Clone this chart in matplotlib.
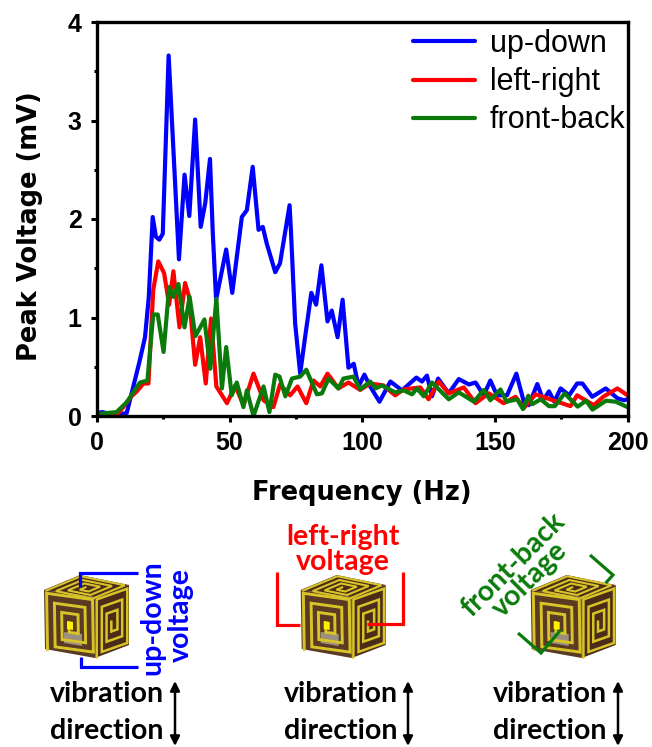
import matplotlib
matplotlib.use('Agg')
import matplotlib.pyplot as plt
from matplotlib.patches import Polygon
from matplotlib.ticker import MultipleLocator
import numpy as np

blue_x = [0, 2, 5, 9, 11.2, 13.7, 16, 18.1, 19.5, 21, 22.2, 23.5, 24.8, 27, 29, 30.9, 33, 34.8, 37, 39.1,
          40.8, 42.6, 43.6, 44.9, 48.7, 51, 54.6, 56.5, 58.7, 60.9, 62.5, 64, 67.2, 69, 72.6, 73.1, 74.7,
          76.6, 78.5, 80.8, 82.6, 84.6, 86.9, 88.5, 90.7, 92.6, 94.8, 96.8, 98.6, 100.8, 103, 106.5, 110.6,
          115, 120.4, 122.5, 124.4, 126.3, 128.6, 132.6, 136.4, 140.2, 142.7, 145.8, 148.3, 150.8, 154.6,
          158.1, 160.9, 162.8, 166, 168.2, 170.4, 172.4, 174.8, 178, 181, 183, 186.7, 191.8, 196.2, 198.7, 200]
blue_y = [0.03, 0.04, 0.02, 0.02, 0.03, 0.30, 0.55, 0.80, 1.2, 2.02, 1.82, 1.79, 1.85, 3.66, 2.6, 1.59, 2.45,
          2.03, 3.01, 1.92, 2.16, 2.61, 1.89, 1.18, 1.69, 1.25, 2.02, 2.09, 2.53, 1.89, 1.92, 1.75, 1.46, 1.55,
          2.14, 1.89, 0.94, 0.43, 0.81, 1.25, 1.13, 1.53, 0.96, 1.07, 0.80, 1.18, 0.49, 0.53, 0.30, 0.42, 0.30,
          0.145, 0.35, 0.26, 0.39, 0.35, 0.41, 0.20, 0.38, 0.23, 0.375, 0.32, 0.34, 0.21, 0.36, 0.21, 0.21,
          0.43, 0.145, 0.11, 0.325, 0.16, 0.25, 0.145, 0.28, 0.21, 0.33, 0.33, 0.195, 0.28, 0.18, 0.16, 0.17]

red_x = [0, 4, 7.4, 9.9, 13, 15, 17.5, 19.4, 21.2, 23.1, 25.3, 27.2, 28.8, 31.1, 33.2, 34.7, 37, 38.9, 41, 43,
         45, 49, 52.1, 55.2, 59, 62.8, 66.5, 69, 72.8, 75.6, 78.9, 81.6, 84.2, 86.9, 91, 94.8, 99.2, 103, 108,
         112.4, 115.6, 121.9, 125, 128.8, 132.6, 138.3, 142.7, 147.7, 153.3, 157.8, 160.9, 165.3, 169.7, 178.5,
         181, 187.3, 191.1, 196.2, 200]
red_y = [0.02, 0.01, 0.01, 0.09, 0.20, 0.25, 0.33, 0.33, 1.28, 1.57, 1.45, 1.13, 1.47, 0.90, 1.35, 1.21, 0.52,
         0.80, 0.33, 0.99, 0.30, 0.13, 0.31, 0.11, 0.43, 0.16, 0.09, 0.32, 0.21, 0.30, 0.13, 0.36, 0.30, 0.43,
         0.28, 0.34, 0.265, 0.33, 0.31, 0.21, 0.27, 0.29, 0.17, 0.35, 0.23, 0.29, 0.13, 0.23, 0.13, 0.195, 0.08,
         0.22, 0.18, 0.10, 0.21, 0.11, 0.20, 0.28, 0.21]

green_x = [0, 7.4, 11.2, 16.2, 19, 21.2, 22.9, 25.1, 27.2, 28.8, 30.7, 33, 34.9, 37.1, 40.5, 42.7, 45, 47.1, 48.7,
           50.8, 52.7, 55.2, 56.5, 59, 62.8, 65, 67.2, 68.8, 71, 73.5, 76.6, 78.9, 82.9, 84.8, 87.3, 91, 92.9,
           96.7, 99.2, 103, 105, 107.4, 112.4, 115.6, 118.8, 120.6, 123.2, 126.3, 132.6, 136.4, 142.1, 145.8,
           148.3, 152.1, 154.4, 158.4, 160.6, 162.6, 164.1, 167.3, 170.4, 172.6, 176.3, 181.2, 184.4, 186.8,
           191.9, 195.6, 200]
green_y = [0.02, 0.04, 0.14, 0.34, 0.36, 1.03, 1.03, 0.65, 1.31, 1.21, 1.34, 0.90, 1.21, 0.81, 0.98, 0.48, 1.19,
           0.28, 0.70, 0.21, 0.34, 0.09, 0.26, 0.0, 0.30, 0.04, 0.42, 0.40, 0.20, 0.38, 0.40, 0.47, 0.22, 0.23,
           0.38, 0.28, 0.38, 0.40, 0.27, 0.35, 0.28, 0.31, 0.24, 0.26, 0.22, 0.28, 0.20, 0.34, 0.17, 0.24, 0.145,
           0.265, 0.16, 0.27, 0.145, 0.17, 0.07, 0.205, 0.12, 0.17, 0.10, 0.10, 0.23, 0.095, 0.155, 0.065, 0.155,
           0.145, 0.09]

series_names = ['up-down', 'left-right', 'front-back']
series_colors = ['#0000ff', '#ff0000', '#0a7a0a']

W, H = 652, 747
fig = plt.figure(figsize=(W/100, H/100), dpi=100)
ax = fig.add_axes([97/W, 1-416/H, 530.5/W, 394/H])

for x, y, name, c in zip([blue_x, red_x, green_x], [blue_y, red_y, green_y], series_names, series_colors):
    ax.plot(x, y, color=c, lw=3.0, label=name, solid_joinstyle='round', solid_capstyle='round')

ax.set_xlim(0, 200)
ax.set_ylim(0, 4)
ax.xaxis.set_major_locator(MultipleLocator(50))
ax.xaxis.set_minor_locator(MultipleLocator(25))
ax.yaxis.set_major_locator(MultipleLocator(1))
ax.yaxis.set_minor_locator(MultipleLocator(0.5))
ax.tick_params(which='major', length=4, width=2.2, labelsize=18, pad=7)
ax.tick_params(which='minor', length=2.5, width=2.2)
for lab in ax.get_xticklabels() + ax.get_yticklabels():
    lab.set_fontfamily('Liberation Sans')
    lab.set_fontweight('bold')
for s in ax.spines.values():
    s.set_linewidth(2.4)
ax.set_xlabel('Frequency (Hz)', fontsize=18.5, fontweight='bold')
ax.set_ylabel('Peak Voltage (mV)', fontsize=18.5, fontweight='bold')
ax.xaxis.set_label_coords((362-97)/530.5, -(493-416)/394, transform=ax.transAxes)
ax.yaxis.set_label_coords(-(97-30)/530.5, (416-226)/394, transform=ax.transAxes)
ax.xaxis.label.set_va('center')
ax.yaxis.label.set_va('center')

leg = ax.legend(loc='upper right', bbox_to_anchor=(1.0023, 0.990), frameon=False, prop={'family': 'Liberation Sans', 'size': 22},
                handlelength=2.03, handletextpad=0.5, labelspacing=0.27, borderaxespad=0.0, borderpad=0.1)

# overlay in pixel coords for the cube sketches
ov = fig.add_axes([0, 0, 1, 1])
ov.set_xlim(0, W)
ov.set_ylim(H, 0)
ov.axis('off')
ov.patch.set_alpha(0)

spiral = np.array([[.05, .0], [.05, .95], [.95, .95], [.95, .06], [.2, .06], [.2, .8], [.8, .8], [.8, .2],
                   [.34, .2], [.34, .66], [.66, .66], [.66, .34], [.48, .34], [.48, .5]])

def face(p0, p1, p3, pts):
    p0, p1, p3 = map(np.array, (p0, p1, p3))
    return p0 + pts[:, :1]*(p1-p0) + (1-pts[:, 1:])*(p3-p0)

def cube(x0, y0=590):
    o = np.array([x0, y0])
    tl, tr, br, bl = o, o+[51, 7], o+[51, 68], o+[1, 59]
    rt, rb, back = o+[85, -5], o+[85, 55], o+[36, -15]
    dark = '#4a2c18'
    yellow = '#d8c428'
    ov.add_patch(Polygon([tl, tr, br, bl], fc='#5a3a22', ec='none'))
    ov.add_patch(Polygon([tr, rt, rb, br], fc=dark, ec='none'))
    ov.add_patch(Polygon([tl, back, rt, tr], fc=dark, ec='none'))
    # grey reflection on the front face
    ov.add_patch(Polygon([o+[20, 42], o+[38, 44], o+[38, 56], o+[20, 53]], fc='#9a8f80', ec='none', zorder=2))
    for p0, p1, p3, lw in [(tl, tr, bl, 2.1), (tr, rt, br, 1.8), (back, rt, tl, 1.5)]:
        xy = face(p0, p1, p3, spiral)
        ov.plot(xy[:, 0], xy[:, 1], color=yellow, lw=lw, solid_joinstyle='miter', zorder=3)
    ov.add_patch(Polygon([o+[23, 31], o+[29, 32], o+[29, 40], o+[23, 39]], fc='#fff000', ec='none', zorder=4))

cube(44)
cube(300.7)
cube(530.7)

wire = dict(lw=2.3, solid_joinstyle='miter', solid_capstyle='butt', zorder=5)
ov.plot([80, 80, 138], [587, 573, 573], color=series_colors[0], **wire)
ov.plot([81, 81, 138], [657, 667, 667], color=series_colors[0], **wire)
ov.plot([276.7, 276.7, 300], [572, 625, 625], color=series_colors[1], **wire)
ov.plot([366.7, 402.7, 402.7], [624, 624, 572], color=series_colors[1], **wire)
ov.plot([518, 541, 560.7], [633, 653, 630], color=series_colors[2], **wire)
ov.plot([590, 613, 605.7], [555, 575, 583], color=series_colors[2], **wire)

lab = dict(family='Lato', fontweight='bold', fontsize=20.5, ha='center', va='center')
ov.text(152, 618, 'up-down', color=series_colors[0], rotation=90, **lab)
ov.text(181, 615, 'voltage', color=series_colors[0], rotation=90, **lab)
ov.text(343, 537, 'left-right', color=series_colors[1], **lab)
ov.text(343, 562, 'voltage', color=series_colors[1], **lab)
ov.text(513, 565, 'front-back', color=series_colors[2], rotation=45, **lab)
ov.text(530, 580, 'voltage', color=series_colors[2], rotation=45, **lab)

for tx, ar in [(107, 175), (341, 408), (550, 618)]:
    ov.text(tx, 694, 'vibration', color='black', **lab)
    ov.text(tx, 731, 'direction', color='black', **lab)
    ov.annotate('', xy=(ar, 681), xytext=(ar, 746), arrowprops=dict(arrowstyle='<|-|>', color='black', lw=1.8, mutation_scale=14, shrinkA=0, shrinkB=0))

fig.savefig('out.png', dpi=100)
